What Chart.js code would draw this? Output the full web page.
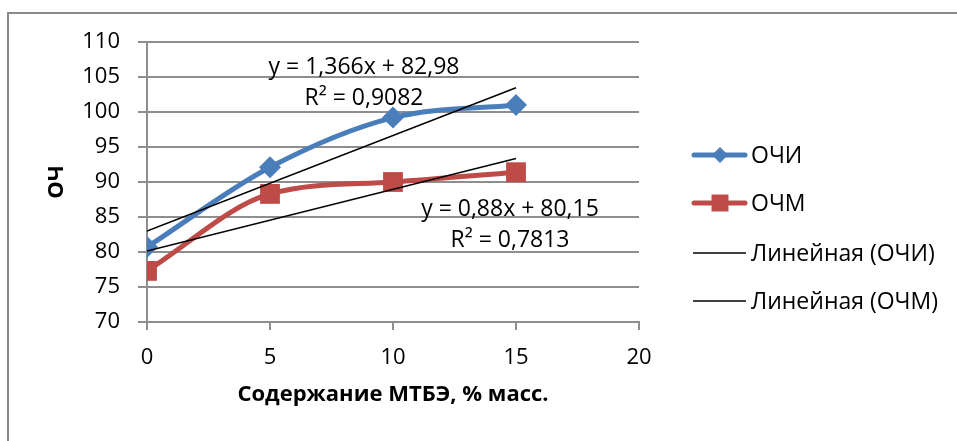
<!DOCTYPE html>
<html>
<head>
<meta charset="utf-8">
<script src="https://cdn.jsdelivr.net/npm/chart.js@4.4.0/dist/chart.umd.min.js"></script>
<style>
    html, body { margin: 0; padding: 0; background: #fff; overflow: hidden; }
    canvas { display: block; }
</style>
</head>
<body>
<canvas id="grafico" width="957" height="441"></canvas>
<script>
// --- данные ---
const mtbe = [0, 5, 10, 15];                 // содержание МТБЭ, % масс.
const ochi = [80.7, 92.1, 99.2, 101.0];      // ОЧИ
const ochm = [77.3, 88.3, 90.0, 91.4];       // ОЧМ
const trendX = [0, 15];
const trendOchi = [82.98, 103.47];           // линия тренда ОЧИ
const trendOchm = [80.15, 93.35];            // линия тренда ОЧМ
const xTicks = [0, 5, 10, 15, 20];
const yTicks = [70, 75, 80, 85, 90, 95, 100, 105, 110];
const seriesNames = ['ОЧИ', 'ОЧМ', 'Линейная (ОЧИ)', 'Линейная (ОЧМ)'];
const eqOchi = ['y = 1,366x + 82,98', 'R² = 0,9082'];
const eqOchm = ['y = 0,88x + 80,15', 'R² = 0,7813'];

const FONT = "'Open Sans', 'Noto Sans', sans-serif";
const GRID = '#8e8e8e';

function pts(xs, ys) {
    return xs.map((x, i) => ({ x: x, y: ys[i] }));
}

// рамка вокруг диаграммы
const ramka = {
    id: 'ramka',
    beforeDraw(chart) {
        const ctx = chart.ctx;
        ctx.save();
        ctx.strokeStyle = '#8a8a8a';
        ctx.lineWidth = 2;
        ctx.strokeRect(8, 13, 2000, 2000);
        ctx.restore();
    }
};

// подписи уравнений трендов
const uravneniya = {
    id: 'uravneniya',
    afterDatasetsDraw(chart) {
        const ctx = chart.ctx;
        ctx.save();
        ctx.font = '23px ' + FONT;
        ctx.fillStyle = '#000';
        ctx.textAlign = 'center';
        ctx.textBaseline = 'middle';
        ctx.fillText(eqOchi[0], 364, 67);
        ctx.fillText(eqOchi[1], 364, 98);
        ctx.fillText(eqOchm[0], 510, 209);
        ctx.fillText(eqOchm[1], 510, 240);
        ctx.restore();
    }
};

// легенда справа, как в Excel
const legenda = {
    id: 'legenda',
    afterDraw(chart) {
        const ctx = chart.ctx;
        const rows = [155, 203, 253, 301];
        ctx.save();
        chart.data.datasets.forEach((ds, i) => {
            const y = rows[i];
            ctx.strokeStyle = ds.borderColor;
            ctx.lineWidth = i < 2 ? 5 : 1.5;
            ctx.lineCap = i < 2 ? 'round' : 'butt';
            ctx.beginPath();
            ctx.moveTo(i < 2 ? 694 : 693, y);
            ctx.lineTo(i < 2 ? 745 : 746, y);
            ctx.stroke();
            if (i < 2) {
                ctx.fillStyle = ds.pointBackgroundColor;
                ctx.strokeStyle = ds.pointBorderColor;
                Chart.helpers.drawPoint(ctx, {
                    pointStyle: ds.pointStyle,
                    radius: i === 0 ? 8 : 12,
                    rotation: 0,
                    borderWidth: 0
                }, 720, y);
            }
            ctx.fillStyle = '#000';
            ctx.font = '23px ' + FONT;
            ctx.textAlign = 'left';
            ctx.textBaseline = 'middle';
            ctx.fillText(ds.label, 751, y + 1);
        });
        ctx.restore();
    }
};

new Chart(document.getElementById('grafico'), {
    type: 'line',
    data: {
        datasets: [
            {
                label: seriesNames[0],
                data: pts(mtbe, ochi),
                borderColor: '#4A7EBB',
                borderWidth: 5,
                cubicInterpolationMode: 'monotone',
                pointStyle: 'rectRot',
                pointRadius: 11,
                pointBackgroundColor: '#4A7EBB',
                pointBorderColor: '#4A7EBB',
                pointBorderWidth: 0,
                order: 2
            },
            {
                label: seriesNames[1],
                data: pts(mtbe, ochm),
                borderColor: '#BE4B48',
                borderWidth: 5,
                cubicInterpolationMode: 'monotone',
                pointStyle: 'rect',
                pointRadius: 14,
                pointBackgroundColor: '#BE4B48',
                pointBorderColor: '#BE4B48',
                pointBorderWidth: 0,
                order: 3
            },
            {
                label: seriesNames[2],
                data: pts(trendX, trendOchi),
                borderColor: '#000',
                borderWidth: 1.5,
                pointRadius: 0,
                tension: 0,
                order: 0
            },
            {
                label: seriesNames[3],
                data: pts(trendX, trendOchm),
                borderColor: '#000',
                borderWidth: 1.5,
                pointRadius: 0,
                tension: 0,
                order: 1
            }
        ]
    },
    options: {
        responsive: false,
        animation: false,
        layout: { padding: { left: 0, top: 42, right: 318, bottom: 0 } },
        plugins: {
            legend: { display: false },
            tooltip: { enabled: false }
        },
        scales: {
            x: {
                type: 'linear',
                min: 0,
                max: 20,
                afterBuildTicks: s => { s.ticks = xTicks.map(v => ({ value: v })); },
                afterFit: s => { s.height = 119; },
                grid: { drawOnChartArea: false, drawTicks: true, tickLength: 8, color: GRID, lineWidth: 2 },
                border: { color: GRID, width: 2 },
                ticks: { color: '#000', padding: 15, font: { family: FONT, size: 22 } },
                title: {
                    display: true,
                    text: 'Содержание МТБЭ, % масс.',
                    color: '#000',
                    padding: { top: 0, bottom: 33 },
                    font: { family: FONT, size: 22, weight: 'bold' }
                }
            },
            y: {
                min: 70,
                max: 110,
                afterBuildTicks: s => { s.ticks = yTicks.map(v => ({ value: v })); },
                afterFit: s => { s.width = 147; },
                grid: { color: GRID, lineWidth: 2, tickLength: 9 },
                border: { color: GRID, width: 2 },
                ticks: { color: '#000', padding: 18, font: { family: FONT, size: 22 } },
                title: {
                    display: true,
                    text: 'ОЧ',
                    color: '#000',
                    padding: { top: 44, bottom: 0 },
                    font: { family: FONT, size: 22, weight: 'bold' }
                }
            }
        }
    },
    plugins: [ramka, uravneniya, legenda]
});
</script>
</body>
</html>
